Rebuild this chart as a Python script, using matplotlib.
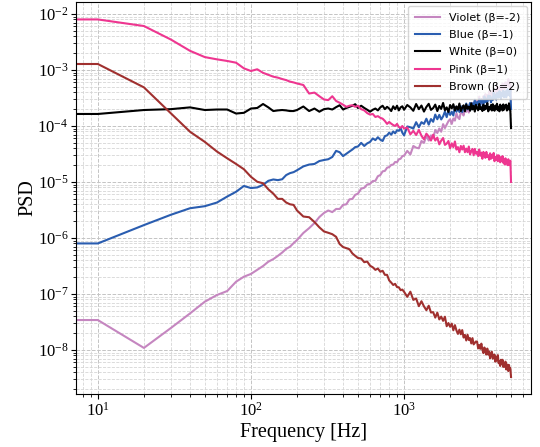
import numpy as np
import matplotlib
matplotlib.use("Agg")
import matplotlib.pyplot as plt
from matplotlib.ticker import NullFormatter

# PSD of five coloured noises
freq = [0, 10, 20, 30, 40, 50, 60, 70, 80, 90, 100, 110, 120, 130, 140, 150, 160, 170, 180, 190, 200,
        220, 240, 260, 280, 300, 320, 340, 360, 380, 400, 420, 440, 460, 480, 500,
        525, 550, 575, 600, 625, 650, 675, 700, 725, 750, 775, 800, 825, 850, 875, 900, 925, 950, 975, 1000,
        1050, 1100, 1150, 1200, 1250, 1300, 1350, 1400, 1450, 1500, 1550, 1600, 1650, 1700, 1750, 1800,
        1850, 1900, 1950, 2000, 2050, 2100, 2150, 2200, 2250, 2300, 2350, 2400, 2450, 2500, 2550, 2600,
        2650, 2700, 2750, 2800, 2850, 2900, 2950, 3000, 3050, 3100, 3150, 3200, 3250, 3300, 3350, 3400,
        3450, 3500, 3550, 3600, 3650, 3700, 3750, 3800, 3850, 3900, 3950, 4000, 4050, 4100, 4150, 4200,
        4250, 4300, 4350, 4400, 4450, 4500, 4550, 4600, 4650, 4700, 4750, 4800, 4850, 4900, 4950, 5000]

violet = [3.43e-8, 3.43e-8, 1.09e-8, 2.47e-8, 4.5e-8, 7.3e-8, 9.6e-8, 1.13e-7, 1.66e-7, 2.04e-7, 2.28e-7,
          2.7e-7, 3.16e-7, 3.78e-7, 4.2e-7, 4.8e-7, 5.5e-7, 6.4e-7, 7.0e-7, 8.1e-7, 9.2e-7,
          1.23e-6, 1.5e-6, 1.85e-6, 2.37e-6, 2.8e-6, 3.1e-6, 2.9e-6, 3.3e-6, 3.3e-6, 3.9e-6, 4.0e-6, 4.9e-6,
          5.0e-6, 5.9e-6, 6.2e-6,
          7.6e-6, 7.9e-6, 9.0e-6, 9.3e-6, 1.04e-5, 1.05e-5, 1.27e-5, 1.33e-5, 1.55e-5, 1.58e-5, 1.8e-5,
          1.85e-5, 2.02e-5, 2.05e-5, 2.28e-5, 2.25e-5, 2.55e-5, 2.6e-5, 2.9e-5, 2.95e-5,
          3.6e-5, 3.1e-5, 4.4e-5, 4.1e-5, 4.0e-5, 5.4e-5, 5.0e-5, 6.7e-5, 5.5e-5, 6.8e-5,
          6.0e-5, 8.5e-5, 7.5e-5, 9.0e-5, 7.9e-5, 10.8e-5, 9.2e-5, 10.65e-5, 12.2e-5, 13.2e-5,
          10.9e-5, 13.65e-5, 12.5e-5, 16.9e-5, 14.2e-5, 13.3e-5, 17.9e-5, 17.0e-5, 15.4e-5, 21.2e-5,
          17.9e-5, 21.5e-5, 17.4e-5, 21.9e-5, 25.9e-5, 20.8e-5, 23.3e-5, 27.8e-5, 22.1e-5, 28.2e-5,
          25.5e-5, 33.5e-5, 25.5e-5, 29.4e-5, 25.1e-5, 34.1e-5, 30.5e-5, 37.2e-5, 29.4e-5, 35.6e-5,
          31.9e-5, 41.8e-5, 31.5e-5, 37.0e-5, 41.6e-5, 33.2e-5, 45.0e-5, 38.6e-5, 42.6e-5, 37.0e-5,
          51.1e-5, 40.6e-5, 47.7e-5, 38.5e-5, 52.1e-5, 46.3e-5, 43.4e-5, 57.2e-5, 47.2e-5, 52.2e-5,
          45.4e-5, 60.1e-5, 49.4e-5, 59.6e-5, 54.1e-5, 68.8e-5, 50.2e-5, 61.4e-5, 56.6e-5, 30.0e-5]

blue = [8.0e-7, 8.0e-7, 1.7e-6, 2.6e-6, 3.4e-6, 3.7e-6, 4.3e-6, 5.5e-6, 6.7e-6, 8.5e-6, 7.8e-6,
        8.0e-6, 8.9e-6, 1.05e-5, 1.11e-5, 1.08e-5, 1.12e-5, 1.33e-5, 1.44e-5, 1.5e-5, 1.62e-5,
        1.9e-5, 2.05e-5, 2.1e-5, 2.37e-5, 2.47e-5, 2.55e-5, 2.8e-5, 3.6e-5, 3.4e-5, 2.9e-5, 3.2e-5, 3.5e-5,
        3.8e-5, 4.2e-5, 4.3e-5,
        5.0e-5, 4.4e-5, 4.9e-5, 5.2e-5, 6.0e-5, 5.6e-5, 6.3e-5, 5.7e-5, 5.4e-5, 6.6e-5, 6.8e-5,
        7.6e-5, 7.0e-5, 8.0e-5, 7.4e-5, 8.4e-5, 8.2e-5, 9.2e-5, 7.6e-5, 6.8e-5,
        9.8e-5, 9.5e-5, 9.0e-5, 11.7e-5, 9.5e-5, 11.7e-5, 10.9e-5, 13.5e-5, 10.6e-5, 13.3e-5,
        11.9e-5, 16.0e-5, 13.2e-5, 15.8e-5, 13.1e-5, 14.9e-5, 18.1e-5, 14.4e-5, 18.5e-5, 15.8e-5,
        18.0e-5, 15.4e-5, 22.0e-5, 18.0e-5, 20.7e-5, 17.8e-5, 22.6e-5, 17.7e-5, 21.3e-5, 20.0e-5,
        25.2e-5, 19.9e-5, 22.1e-5, 25.8e-5, 19.9e-5, 25.5e-5, 22.5e-5, 29.4e-5, 22.1e-5, 26.6e-5,
        24.9e-5, 30.1e-5, 23.0e-5, 30.0e-5, 27.7e-5, 24.4e-5, 33.7e-5, 26.6e-5, 30.9e-5, 26.5e-5,
        34.8e-5, 29.7e-5, 34.5e-5, 26.4e-5, 32.2e-5, 29.1e-5, 39.7e-5, 31.5e-5, 36.0e-5, 29.6e-5,
        39.0e-5, 34.2e-5, 32.1e-5, 41.9e-5, 37.0e-5, 30.7e-5, 39.7e-5, 34.4e-5, 42.8e-5, 32.6e-5,
        37.7e-5, 41.8e-5, 32.5e-5, 36.6e-5, 45.7e-5, 35.9e-5, 41.2e-5, 34.7e-5, 44.2e-5, 20.0e-5]

white = [1.64e-4, 1.64e-4, 1.93e-4, 2.0e-4, 2.15e-4, 1.93e-4, 1.97e-4, 1.97e-4, 1.67e-4, 1.72e-4, 2.05e-4,
         2.1e-4, 2.47e-4, 2.15e-4, 1.85e-4, 1.9e-4, 1.93e-4, 1.9e-4, 1.85e-4, 1.85e-4, 1.93e-4,
         2.23e-4, 1.85e-4, 2.05e-4, 1.8e-4, 2.0e-4, 2.05e-4, 1.97e-4, 2.17e-4, 2.35e-4, 1.97e-4, 2.1e-4,
         2.2e-4, 2.3e-4, 2.45e-4, 2.1e-4,
         2.3e-4, 2.1e-4, 1.95e-4, 1.8e-4, 1.95e-4, 2.05e-4, 1.9e-4, 2.15e-4, 2.3e-4, 2.0e-4, 2.2e-4,
         2.05e-4, 1.85e-4, 2.25e-4, 2.0e-4, 2.3e-4, 1.9e-4, 2.15e-4, 2.25e-4, 1.95e-4,
         2.37e-4, 2.15e-4, 1.87e-4, 2.47e-4, 2.0e-4, 2.32e-4, 1.81e-4, 2.19e-4, 2.49e-4, 1.94e-4,
         2.09e-4, 2.41e-4, 1.85e-4, 2.28e-4, 2.02e-4, 2.58e-4, 1.91e-4, 2.15e-4, 1.78e-4, 2.37e-4,
         2.06e-4, 2.45e-4, 1.89e-4, 2.24e-4, 1.96e-4, 2.52e-4, 1.85e-4, 2.13e-4, 2.34e-4, 1.83e-4,
         2.43e-4, 2.04e-4, 2.21e-4, 1.87e-4, 2.54e-4, 1.98e-4, 2.28e-4, 1.81e-4, 2.39e-4, 2.09e-4,
         1.91e-4, 2.47e-4, 2.0e-4, 2.17e-4, 1.85e-4, 2.41e-4, 1.94e-4, 2.3e-4, 2.04e-4, 2.56e-4,
         1.83e-4, 2.19e-4, 1.98e-4, 2.37e-4, 1.89e-4, 2.45e-4, 2.06e-4, 1.87e-4, 2.32e-4, 2.0e-4,
         2.49e-4, 1.91e-4, 2.21e-4, 1.83e-4, 2.41e-4, 2.02e-4, 2.26e-4, 1.89e-4, 2.43e-4, 1.96e-4,
         2.15e-4, 2.34e-4, 2.41e-4, 1.89e-4, 2.26e-4, 1.98e-4, 2.54e-4, 2.04e-4, 1.83e-4, 0.92e-4]

pink = [8.0e-3, 8.0e-3, 6.1e-3, 3.5e-3, 2.2e-3, 1.7e-3, 1.55e-3, 1.45e-3, 1.35e-3, 1.07e-3, 9.6e-4,
        1.03e-3, 8.9e-4, 8.2e-4, 7.6e-4, 7.3e-4, 6.9e-4, 6.6e-4, 6.2e-4, 6.0e-4, 5.75e-4,
        5.4e-4, 3.8e-4, 3.95e-4, 3.4e-4, 2.98e-4, 2.9e-4, 3.4e-4, 2.8e-4, 2.6e-4, 2.4e-4, 2.2e-4, 2.3e-4,
        2.35e-4, 2.2e-4, 2.3e-4,
        2.0e-4, 1.9e-4, 1.7e-4, 1.6e-4, 1.64e-4, 1.45e-4, 1.5e-4, 1.4e-4, 1.35e-4, 1.23e-4, 1.09e-4,
        1.18e-4, 1.1e-4, 1.04e-4, 1.0e-4, 1.09e-4, 9.6e-5, 9.3e-5, 1.0e-4, 9.0e-5,
        9.4e-5, 7.1e-5, 8.2e-5, 6.9e-5, 8.5e-5, 6.7e-5, 5.8e-5, 7.3e-5, 6.5e-5, 5.5e-5,
        7.0e-5, 5.5e-5, 6.2e-5, 4.7e-5, 5.5e-5, 6.1e-5, 4.6e-5, 4.85e-5, 5.4e-5, 4.0e-5,
        4.9e-5, 4.2e-5, 5.3e-5, 3.8e-5, 4.2e-5, 3.4e-5, 4.4e-5, 3.8e-5, 4.45e-5, 3.4e-5,
        3.95e-5, 3.4e-5, 4.3e-5, 3.1e-5, 3.55e-5, 3.9e-5, 3.0e-5, 3.9e-5, 3.2e-5, 3.45e-5,
        2.9e-5, 3.8e-5, 2.95e-5, 3.35e-5, 2.6e-5, 3.45e-5, 3.0e-5, 2.7e-5, 3.45e-5, 2.8e-5,
        3.0e-5, 2.5e-5, 3.25e-5, 2.6e-5, 3.05e-5, 2.7e-5, 3.3e-5, 2.35e-5, 2.8e-5, 2.5e-5,
        3.0e-5, 2.35e-5, 3.0e-5, 2.55e-5, 2.25e-5, 2.8e-5, 2.35e-5, 2.9e-5, 2.2e-5, 2.5e-5,
        2.05e-5, 2.65e-5, 2.2e-5, 2.45e-5, 2.0e-5, 2.55e-5, 2.0e-5, 2.2e-5, 2.4e-5, 1.0e-5]

brown = [1.28e-3, 1.28e-3, 4.9e-4, 1.69e-4, 7.9e-5, 5.2e-5, 3.5e-5, 2.65e-5, 2.1e-5, 1.69e-5, 1.24e-5,
         1.01e-5, 9.5e-6, 7.4e-6, 6.2e-6, 5.0e-6, 5.0e-6, 4.3e-6, 4.0e-6, 3.9e-6, 3.1e-6,
         2.42e-6, 2.35e-6, 1.93e-6, 1.55e-6, 1.31e-6, 1.24e-6, 1.17e-6, 1.05e-6, 7.8e-7, 6.9e-7, 6.6e-7,
         6.3e-7, 5.3e-7, 4.8e-7, 4.4e-7,
         4.3e-7, 3.7e-7, 3.8e-7, 3.2e-7, 3.0e-7, 2.7e-7, 2.85e-7, 2.5e-7, 2.6e-7, 2.2e-7, 2.2e-7,
         1.75e-7, 1.6e-7, 1.45e-7, 1.52e-7, 1.33e-7, 1.32e-7, 1.17e-7, 1.2e-7, 1.1e-7,
         89e-9, 110e-9, 78.6e-9, 83.2e-9, 60.7e-9, 74.3e-9, 60.1e-9, 51.4e-9, 61.8e-9, 46.7e-9,
         47.5e-9, 37.9e-9, 46.5e-9, 35.2e-9, 39.5e-9, 33.2e-9, 39.3e-9, 26.6e-9, 30.3e-9, 26.0e-9,
         29.6e-9, 22.5e-9, 27.8e-9, 22.4e-9, 19.4e-9, 23.1e-9, 19.1e-9, 22.7e-9, 16.7e-9, 18.6e-9,
         14.8e-9, 18.7e-9, 15.1e-9, 16.3e-9, 13.1e-9, 16.3e-9, 12.6e-9, 13.4e-9, 14.2e-9, 14.1e-9,
         10.7e-9, 12.3e-9, 10.5e-9, 13.0e-9, 10.2e-9, 8.8e-9, 11.1e-9, 9.8e-9, 8.3e-9, 10.6e-9,
         8.3e-9, 9.4e-9, 7.1e-9, 8.4e-9, 9.3e-9, 7.0e-9, 7.4e-9, 8.3e-9, 6.2e-9, 7.5e-9,
         6.5e-9, 8.1e-9, 5.8e-9, 6.4e-9, 5.2e-9, 6.7e-9, 5.7e-9, 6.7e-9, 5.0e-9, 5.8e-9,
         5.0e-9, 6.2e-9, 4.5e-9, 5.1e-9, 5.5e-9, 4.2e-9, 5.4e-9, 4.5e-9, 4.7e-9, 3.3e-9]

labels = ['Violet (β=-2)', 'Blue (β=-1)', 'White (β=0)', 'Pink (β=1)', 'Brown (β=2)']
colors = ['#c586c0', '#2a5db0', 'black', '#ee3690', '#a0302f']

plt.rcParams['font.family'] = 'serif'
plt.rcParams['font.serif'] = ['Liberation Serif', 'DejaVu Serif']
plt.rcParams['mathtext.fontset'] = 'stix'

fig = plt.figure(figsize=(5.4, 4.47), dpi=100)
ax = fig.add_axes([0.1407, 0.1186, 0.8426, 0.877])

for series, label, color in zip([violet, blue, white, pink, brown], labels, colors):
    ax.plot(freq, series, color=color, lw=1.5, label=label)

ax.set_xscale('log')
ax.set_yscale('log')
ax.set_xlim(7.2, 6750)
ax.set_ylim(1.64e-9, 1.64e-2)
ax.xaxis.set_minor_formatter(NullFormatter())
ax.yaxis.set_minor_formatter(NullFormatter())

ax.grid(True, which='major', ls='--', color='#c4c4c4', lw=0.7)
ax.grid(True, which='minor', ls='--', color='#d6d6d6', lw=0.6)
ax.tick_params(axis='both', which='major', labelsize=12, pad=2)

ax.set_xlabel('Frequency [Hz]', fontsize=14.5)
ax.set_ylabel('PSD', fontsize=14.5)
# keep the axis labels where the reference puts them
ax.xaxis.set_label_coords(0.5, -0.074)
ax.yaxis.set_label_coords(-0.085, 0.5)

ax.legend(loc='upper right', prop={'family': 'DejaVu Sans', 'size': 8},
          labelspacing=0.66, borderpad=0.6, borderaxespad=0.35, handlelength=2.3)

fig.savefig('out.png', dpi=100)
plt.close(fig)
